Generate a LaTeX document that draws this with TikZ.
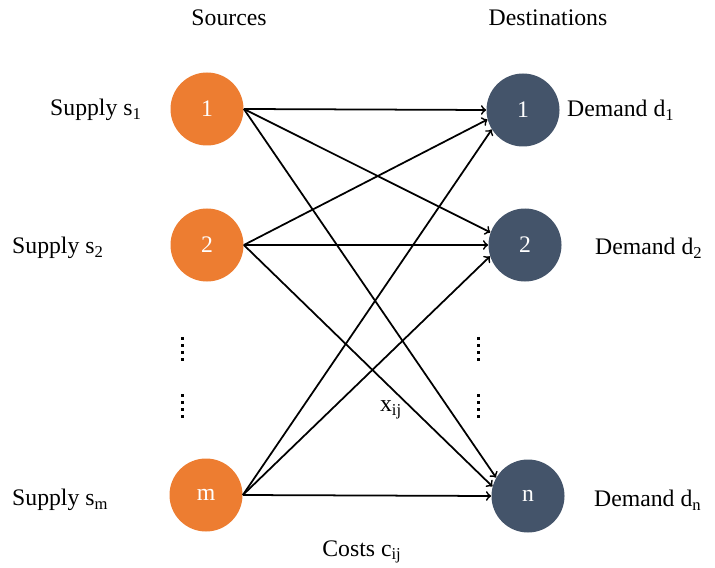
\documentclass[tikz,border=0pt]{standalone}
\usepackage{fontspec}
\setmainfont{Liberation Serif}
\usepackage{tikz}
\usepackage{xcolor}
\definecolor{srcorange}{HTML}{ED7D31}
\definecolor{dstblue}{HTML}{44546A}

\begin{document}
\begin{tikzpicture}[font=\fontsize{13.5}{16}\selectfont]
\useasboundingbox (0,0) rectangle (14.3,11.34);

\begin{scope}[every node/.style={circle,minimum size=1.46cm,inner sep=0pt,text=white}]
\node[fill=srcorange] (s1) at (4.14, 9.16) {1};
\node[fill=srcorange] (s2) at (4.14, 6.44) {2};
\node[fill=srcorange] (sm) at (4.12, 1.44) {m};

\node[fill=dstblue] (d1) at (10.46, 9.14) {1};
\node[fill=dstblue] (d2) at (10.50, 6.44) {2};
\node[fill=dstblue] (dn) at (10.56, 1.42) {n};
\end{scope}

\node (src) at (4.58, 10.98) {Sources};
\node (dst) at (10.96, 10.98) {Destinations};

\node[anchor=west] (sup1) at (0.88, 9.14) {Supply s\textsubscript{1}};
\node[anchor=west] (sup2) at (0.12, 6.38) {Supply s\textsubscript{2}};
\node[anchor=west] (supm) at (0.12, 1.34) {Supply s\textsubscript{m}};

\node[anchor=west] (dem1) at (11.22, 9.14) {Demand d\textsubscript{1}};
\node[anchor=west] (dem2) at (11.78, 6.38) {Demand d\textsubscript{2}};
\node[anchor=west] (demn) at (11.76, 1.34) {Demand d\textsubscript{n}};

\node (flow) at (7.82, 3.14) {x\textsubscript{ij}};
\node (cost) at (7.24, 0.30) {Costs c\textsubscript{ij}};

% vertical dots
\foreach \x in {3.64, 9.56} {
  \foreach \y in {4.58, 4.44, 4.30, 4.16, 3.44, 3.30, 3.16, 3.02}
    \fill (\x-0.03,\y-0.03) rectangle (\x+0.03,\y+0.03);
}

\begin{scope}[line width=1pt, ->]
\draw (s1.east) -- (d1.west);
\draw (s1.east) -- (d2.160);
\draw (s1.east) -- (dn.150);

\draw (s2.east) -- (d1.195);
\draw (s2.east) -- (d2.west);
\draw (s2.east) -- (dn.165);

\draw (sm.east) -- (d1.212);
\draw (sm.east) -- (d2.198);
\draw (sm.east) -- (dn.west);
\end{scope}
\end{tikzpicture}
\end{document}
